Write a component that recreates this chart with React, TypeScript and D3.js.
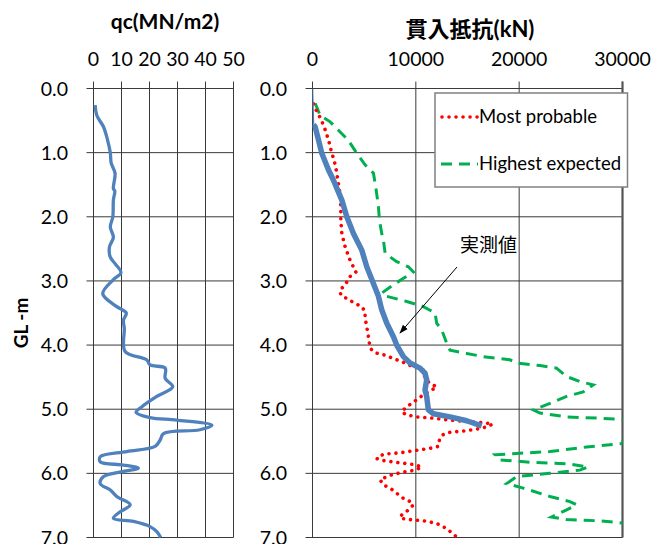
import * as d3 from 'd3';

// depth (m) , qc (MN/m2)
const qcData: [number, number][] = [
  [0.26, 0.6], [0.42, 1.2], [0.6, 3.6], [0.8, 5], [1.0, 6], [1.16, 6.3], [1.32, 7.7],
  [1.56, 7.1], [1.6, 7.6], [1.74, 7.1], [2.0, 6.9], [2.16, 6], [2.32, 7.1], [2.47, 5.7],
  [2.63, 6], [2.73, 7.7], [2.87, 9.8], [2.98, 7.1], [3.2, 3.3], [3.4, 8.3], [3.5, 11.7],
  [3.61, 10.7], [3.74, 11], [4.1, 11.3], [4.23, 19], [4.31, 20.2], [4.36, 25.6],
  [4.52, 25.6], [4.65, 28.3], [4.8, 22.6], [4.96, 17.3], [5.05, 15.2], [5.13, 20.2],
  [5.17, 29.8], [5.25, 42.3], [5.32, 38], [5.38, 25], [5.48, 23.8], [5.58, 22],
  [5.66, 11.9], [5.74, 2.4], [5.82, 2.4], [5.87, 10.7], [5.92, 16], [5.97, 10.7],
  [6.05, 3.6], [6.16, 2.4], [6.26, 6], [6.36, 8.3], [6.49, 13.1], [6.6, 9.5],
  [6.7, 7.1], [6.75, 14.3], [6.83, 20.2], [6.91, 22.6], [7.0, 24],
];

// depth (m) , 貫入抵抗 (kN)
const measuredData: [number, number][] = [
  [0, 0], [0.56, 100], [0.6, 260], [0.8, 580], [1.01, 900], [1.27, 1550], [1.43, 2030],
  [1.58, 2420], [1.74, 2840], [2.0, 3320], [2.26, 3960], [2.52, 4770], [2.78, 5250],
  [3.0, 5800], [3.24, 6380], [3.45, 6700], [3.66, 7190], [3.87, 7830], [4.0, 8150],
  [4.18, 8800], [4.28, 9440], [4.36, 10400], [4.44, 10890], [4.54, 11050], [4.7, 10890],
  [4.8, 11050], [5.01, 11210], [5.07, 11700], [5.12, 13310], [5.18, 14920], [5.26, 16370],
];

const probableData: [number, number][] = [
  [0.24, 100], [0.36, 420], [0.47, 800], [0.6, 1130], [0.8, 1550], [1.01, 1870],
  [1.12, 2100], [1.27, 2290], [1.48, 2510], [1.64, 2670], [1.84, 2740], [2.05, 2740],
  [2.26, 2840], [2.47, 3160], [2.68, 3640], [2.86, 4200], [2.93, 3640], [3.06, 3160],
  [3.14, 2670], [3.22, 2740], [3.29, 3480], [3.35, 4120], [3.4, 4770], [3.48, 5090],
  [3.58, 5090], [3.71, 5250], [3.87, 5410], [4.05, 5580], [4.12, 6060], [4.15, 6860],
  [4.21, 7830], [4.27, 8800], [4.33, 9600], [4.34, 10250], [4.39, 10730], [4.52, 10890],
  [4.6, 11370], [4.65, 12020], [4.7, 11540], [4.76, 10890], [4.83, 10250], [4.91, 9600],
  [4.96, 9120], [5.04, 8630], [5.09, 9120], [5.12, 10090], [5.14, 11700], [5.17, 13310],
  [5.19, 14920], [5.21, 16530], [5.23, 17430], [5.27, 17010], [5.31, 15890], [5.34, 14600],
  [5.36, 13310], [5.4, 12600], [5.48, 12280], [5.58, 12180], [5.61, 11370], [5.64, 10090],
  [5.68, 8480], [5.7, 6860], [5.77, 6220], [5.8, 6860], [5.83, 8150], [5.86, 9760],
  [5.9, 10570], [5.95, 9920], [5.98, 8800], [6.03, 7510], [6.1, 6540], [6.18, 6860],
  [6.23, 7510], [6.31, 8150], [6.39, 8800], [6.44, 9440], [6.49, 9760], [6.57, 9280],
  [6.65, 8630], [6.7, 8480], [6.72, 9440], [6.74, 10730], [6.78, 12020], [6.86, 12990],
  [6.99, 13950],
];

const highestData: [number, number][] = [
  [0.23, 260], [0.42, 740], [0.52, 1710], [0.65, 2510], [0.81, 3480], [1.01, 4290],
  [1.19, 5090], [1.32, 5900], [1.58, 6160], [1.84, 6380], [2.05, 6480], [2.26, 6700],
  [2.36, 6860], [2.57, 7030], [2.7, 8150], [2.78, 9280], [2.86, 9760], [2.96, 8800],
  [3.06, 7830], [3.19, 6700], [3.24, 7190], [3.32, 9120], [3.4, 10730], [3.5, 11860],
  [3.66, 12020], [3.76, 12500], [3.97, 12990], [4.08, 13310], [4.13, 14920], [4.18, 16530],
  [4.23, 19110], [4.28, 19760], [4.32, 22010], [4.36, 23620], [4.49, 24590], [4.57, 25880],
  [4.62, 27170], [4.73, 26200], [4.8, 24590], [4.91, 22980], [5.01, 21370], [5.06, 22010],
  [5.12, 24590], [5.14, 27810], [5.16, 30300], [5.27, 33000], [5.44, 29700], [5.53, 30300],
  [5.59, 26500], [5.66, 22980], [5.69, 19760], [5.71, 17660], [5.79, 18140], [5.83, 21370],
  [5.85, 24590], [5.9, 26680], [5.95, 25880], [6.0, 22980], [6.05, 19760], [6.16, 18790],
  [6.23, 20400], [6.36, 22980], [6.44, 24910], [6.49, 25560], [6.57, 24590], [6.68, 23140],
  [6.72, 24590], [6.74, 27810], [6.78, 30300],
];

const depthTicks = [0, 1, 2, 3, 4, 5, 6, 7];
const qcTicks = [0, 10, 20, 30, 40, 50];
const loadTicks = [0, 10000, 20000, 30000];

const FONT = "Lato, 'Noto Sans CJK JP', sans-serif";

export default function App() {
  const W = 658;
  const H = 544;
  const top = 88.5;
  const bottom = 537.5;

  const y = d3.scaleLinear().domain([0, 7]).range([top, bottom]);
  const xq = d3.scaleLinear().domain([0, 50]).range([93.5, 233.5]);
  const xr = d3.scaleLinear().domain([0, 30000]).range([312.5, 622.5]);

  const qcLine = d3
    .line<[number, number]>()
    .x((d) => xq(d[1]))
    .y((d) => y(d[0]))
    .curve(d3.curveCatmullRom.alpha(0.5));

  const rLine = d3
    .line<[number, number]>()
    .x((d) => xr(d[1]))
    .y((d) => y(d[0]));

  const grid = '#3a3a3a';

  const panelGrid = (x: d3.ScaleLinear<number, number>, ticks: number[], fmt: (v: number) => string, ylabX: number) => (
    <g>
      {depthTicks.map((t) => (
        <line key={'h' + t} x1={x.range()[0] - 7} x2={x.range()[1]} y1={y(t)} y2={y(t)} stroke={grid} strokeWidth={1} />
      ))}
      {ticks.map((t) => (
        <line key={'v' + t} x1={x(t)} x2={x(t)} y1={top - 7} y2={bottom} stroke={grid} strokeWidth={1} />
      ))}
      {ticks.map((t) => (
        <text key={'t' + t} x={x(t)} y={66} textAnchor="middle" fontSize={19.5} fill="#000">
          {fmt(t)}
        </text>
      ))}
      {depthTicks.map((t) => (
        <text key={'l' + t} x={ylabX} y={y(t) + 7} textAnchor="end" fontSize={19.5} fill="#000">
          {t.toFixed(1)}
        </text>
      ))}
    </g>
  );

  return (
    <div style={{ position: 'absolute', left: 0, top: 0 }}>
      <svg width={W} height={H} style={{ display: 'block', fontFamily: FONT }}>
        <defs>
          <clipPath id="rclip">
            <rect x={xr(0)} y={top} width={xr(30000) - xr(0)} height={bottom - top} />
          </clipPath>
          <marker id="arrow" viewBox="0 0 10 10" refX={9} refY={5} markerWidth={9} markerHeight={9} orient="auto">
            <path d="M0,1.5 L10,5 L0,8.5 z" fill="#000" />
          </marker>
        </defs>
        <rect width={W} height={H} fill="#fff" />

        {/* left panel */}
        <text x={165} y={29} textAnchor="middle" fontSize={21} fontWeight="bold">qc(MN/m2)</text>
        {panelGrid(xq, qcTicks, (v) => String(v), 68)}
        <path d={qcLine(qcData) ?? ''} fill="none" stroke="#4F81BD" strokeWidth={3.3} strokeLinejoin="round" />
        <text transform="translate(28,323) rotate(-90)" textAnchor="middle" fontSize={19} fontWeight="bold">GL -m</text>

        {/* right panel */}
        <text x={470} y={37} textAnchor="middle" fontSize={22} fontWeight="bold">貫入抵抗(kN)</text>
        {panelGrid(xr, loadTicks, (v) => String(v), 287)}
        <line x1={xr(30000)} x2={xr(30000)} y1={top - 7} y2={bottom} stroke="#555" strokeWidth={2.2} />
        <g clipPath="url(#rclip)">
          <path d={rLine(highestData) ?? ''} fill="none" stroke="#00B050" strokeWidth={3} strokeDasharray="11 7" />
          <path d={rLine(probableData) ?? ''} fill="none" stroke="#FF0000" strokeWidth={3.6} strokeDasharray="0.01 7" strokeLinecap="round" />
          <path d={rLine(measuredData.slice(0, 2)) ?? ''} fill="none" stroke="#4F81BD" strokeWidth={1.5} />
          <path d={rLine(measuredData.slice(1)) ?? ''} fill="none" stroke="#4F81BD" strokeWidth={5.5} strokeLinejoin="round" />
        </g>

        {/* legend */}
        <rect x={435} y={93} width={192.5} height={94} fill="#fff" stroke="#808080" strokeWidth={1.5} />
        <line x1={442} x2={478} y1={117} y2={117} stroke="#FF0000" strokeWidth={3.6} strokeDasharray="0.01 7" strokeLinecap="round" />
        <text x={479} y={123} fontSize={18.5}>Most probable</text>
        <line x1={441} x2={478} y1={164} y2={164} stroke="#00B050" strokeWidth={3} strokeDasharray="11 7" />
        <text x={479} y={170} fontSize={18.5}>Highest expected</text>

        {/* annotation */}
        <text x={460} y={252} fontSize={19}>実測値</text>
        <line x1={457} y1={267} x2={400} y2={333} stroke="#000" strokeWidth={1} markerEnd="url(#arrow)" />
      </svg>
    </div>
  );
}
